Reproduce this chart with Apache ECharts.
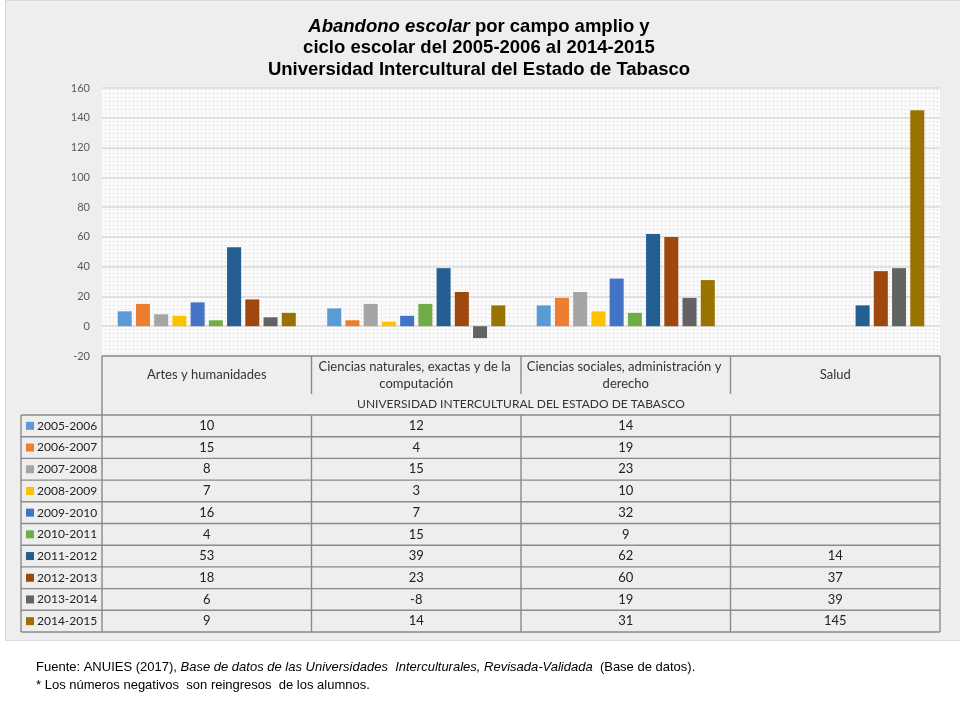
<!DOCTYPE html>
<html><head><meta charset="utf-8">
<script src="https://cdn.jsdelivr.net/npm/echarts@6/dist/echarts.min.js"></script>
<style>
html,body{margin:0;padding:0;background:#fff;}
#frame{position:absolute;left:5px;top:0;width:960px;height:641px;background:#eeeeee;border:1px solid #d9d9d9;box-sizing:border-box;}
#chart{position:absolute;left:0;top:0;width:960px;height:720px;}
</style></head><body><div id="frame"></div><div id="chart"></div>
<script>
// ---- data ----
const categories = ['Artes y humanidades', 'Ciencias naturales, exactas y de la computación', 'Ciencias sociales, administración y derecho', 'Salud'];
const groupLabel = 'UNIVERSIDAD INTERCULTURAL DEL ESTADO DE TABASCO';
const seriesNames = ['2005-2006','2006-2007','2007-2008','2008-2009','2009-2010','2010-2011','2011-2012','2012-2013','2013-2014','2014-2015'];
const v2005_2006 = [10, 12, 14, null];
const v2006_2007 = [15, 4, 19, null];
const v2007_2008 = [8, 15, 23, null];
const v2008_2009 = [7, 3, 10, null];
const v2009_2010 = [16, 7, 32, null];
const v2010_2011 = [4, 15, 9, null];
const v2011_2012 = [53, 39, 62, 14];
const v2012_2013 = [18, 23, 60, 37];
const v2013_2014 = [6, -8, 19, 39];
const v2014_2015 = [9, 14, 31, 145];
const seriesValues = [v2005_2006, v2006_2007, v2007_2008, v2008_2009, v2009_2010, v2010_2011, v2011_2012, v2012_2013, v2013_2014, v2014_2015];
const yMin = -20, yMax = 160, yStep = 20;
const titleLine1Italic = 'Abandono escolar';
const titleLine1Rest = ' por campo amplio y';
const titleLine2 = 'ciclo escolar del 2005-2006 al 2014-2015';
const titleLine3 = 'Universidad Intercultural del Estado de Tabasco';
const footSource = 'Fuente: ANUIES (2017), ';
const footItalic = 'Base de datos de las Universidades  Interculturales, Revisada-Validada';
const footEnd = '  (Base de datos).';
const footNote = '* Los números negativos  son reingresos  de los alumnos.';

// ---- styles ----
const colors = ['#5B9BD5','#ED7D31','#A5A5A5','#FFC000','#4472C4','#70AD47','#255E91','#9E480E','#636363','#997300'];
const NARROW = "'Liberation Sans Narrow','Arial Narrow','Liberation Sans',Arial,sans-serif";
const BODY = "Lato,'Noto Sans',sans-serif";

const pc = document.createElement('canvas');
pc.width = 4; pc.height = 4;
const pctx = pc.getContext('2d');
pctx.fillStyle = '#fafafa'; pctx.fillRect(0,0,4,4);
pctx.fillStyle = '#d2d2d2'; pctx.fillRect(1,1,1,1);

const chart = echarts.init(document.getElementById('chart'), null, {renderer:'canvas'});

const titleStyle = {fontFamily: NARROW, fontWeight:'bold', fontSize:18.5, color:'#000', lineHeight:21.5};
const option = {
  animation: false,
  backgroundColor: 'transparent',
  color: colors,
  title: {
    text: '{bi|' + titleLine1Italic + '}{b|' + titleLine1Rest + '}\n{b|' + titleLine2 + '}\n{b|' + titleLine3 + '}',
    left: 474, top: 11, textAlign: 'center',
    textStyle: {
      rich: {
        bi: Object.assign({}, titleStyle, {fontStyle:'italic'}),
        b: titleStyle
      }
    }
  },
  grid: {left: 102, right: 20, top: 88, bottom: 364, show: true, borderWidth: 0,
         backgroundColor: {image: pc, repeat: 'repeat'}},
  xAxis: {
    type: 'category', data: categories,
    axisLine: {show:false}, axisTick: {show:false},
    axisLabel: {interval:0, margin: 19, verticalAlign:'middle', width: 204, overflow:'break',
                fontFamily: BODY, fontSize: 13, color:'#333', lineHeight: 17, align:'center'}
  },
  yAxis: {
    type: 'value', min: yMin, max: yMax, interval: yStep,
    axisLine: {show:false}, axisTick: {show:false},
    axisLabel: {fontFamily: BODY, fontSize: 11, color:'#595959', margin: 12},
    splitLine: {lineStyle: {color:'#d9d9d9', width:1.5}}
  },
  series: seriesNames.map((n, i) => ({
    name: n, type: 'bar', data: seriesValues[i],
    barGap: '30%', barCategoryGap: '15%',
    itemStyle: {color: colors[i]}
  }))
};
chart.setOption(option);

function buildTable(){
  const c0 = chart.convertToPixel({xAxisIndex:0}, 0);
  const c1 = chart.convertToPixel({xAxisIndex:0}, 1);
  const band = c1 - c0;
  const left = c0 - band/2;
  const edges = [];
  for (let i = 0; i <= categories.length; i++) edges.push(left + i*band);
  const right = edges[edges.length-1];
  const top = chart.convertToPixel({yAxisIndex:0}, yMin);
  const headerH = 38, groupH = 21, rowH = 21.7, legLeft = 21;
  const groupTop = top + headerH;
  const rowsTop = groupTop + groupH;
  const bottom = rowsTop + rowH * seriesNames.length;
  const ls = {stroke:'#8a8a8a', lineWidth:1.4};
  const g = [];
  const line = (x1,y1,x2,y2) => g.push({type:'line', shape:{x1,y1,x2,y2}, style:ls, silent:true});
  // header
  line(edges[0], top, right, top);
  line(edges[0], top, edges[0], rowsTop);
  for (let i = 1; i < edges.length-1; i++) line(edges[i], top, edges[i], groupTop);
  line(right, top, right, bottom);
  g.push({type:'text', x:(edges[0]+right)/2, y: groupTop + groupH/2,
    style:{text: groupLabel, fill:'#333', font:'12px ' + BODY, textAlign:'center', textVerticalAlign:'middle'}, silent:true});
  // rows
  for (let r = 0; r <= seriesNames.length; r++) line(legLeft, rowsTop + r*rowH, right, rowsTop + r*rowH);
  line(legLeft, rowsTop, legLeft, bottom);
  for (let i = 0; i < edges.length-1; i++) line(edges[i], rowsTop, edges[i], bottom);
  seriesNames.forEach((n, r) => {
    const cy = rowsTop + r*rowH + rowH/2;
    g.push({type:'rect', shape:{x:26, y:cy-4, width:8, height:8}, style:{fill:colors[r]}, silent:true});
    g.push({type:'text', x:37, y:cy, style:{text:n, fill:'#222', font:'12px ' + BODY, textAlign:'left', textVerticalAlign:'middle'}, silent:true});
    seriesValues[r].forEach((v, c) => {
      if (v === null) return;
      g.push({type:'text', x:(edges[c]+edges[c+1])/2, y:cy, style:{text:String(v), fill:'#222', font:'13px ' + BODY, textAlign:'center', textVerticalAlign:'middle'}, silent:true});
    });
  });
  // footer
  g.push({type:'text', x:36, y:667, style:{
    rich:{n:{font:'13px ' + NARROW, fill:'#000'}, i:{font:'italic 13px ' + NARROW, fill:'#000'}},
    text:'{n|' + footSource + '}{i|' + footItalic + '}{n|' + footEnd + '}', textVerticalAlign:'middle'}, silent:true});
  g.push({type:'text', x:36, y:685, style:{text: footNote, font:'13px ' + NARROW, fill:'#000', textVerticalAlign:'middle'}, silent:true});
  chart.setOption({graphic: g});
}
buildTable();
</script></body></html>
